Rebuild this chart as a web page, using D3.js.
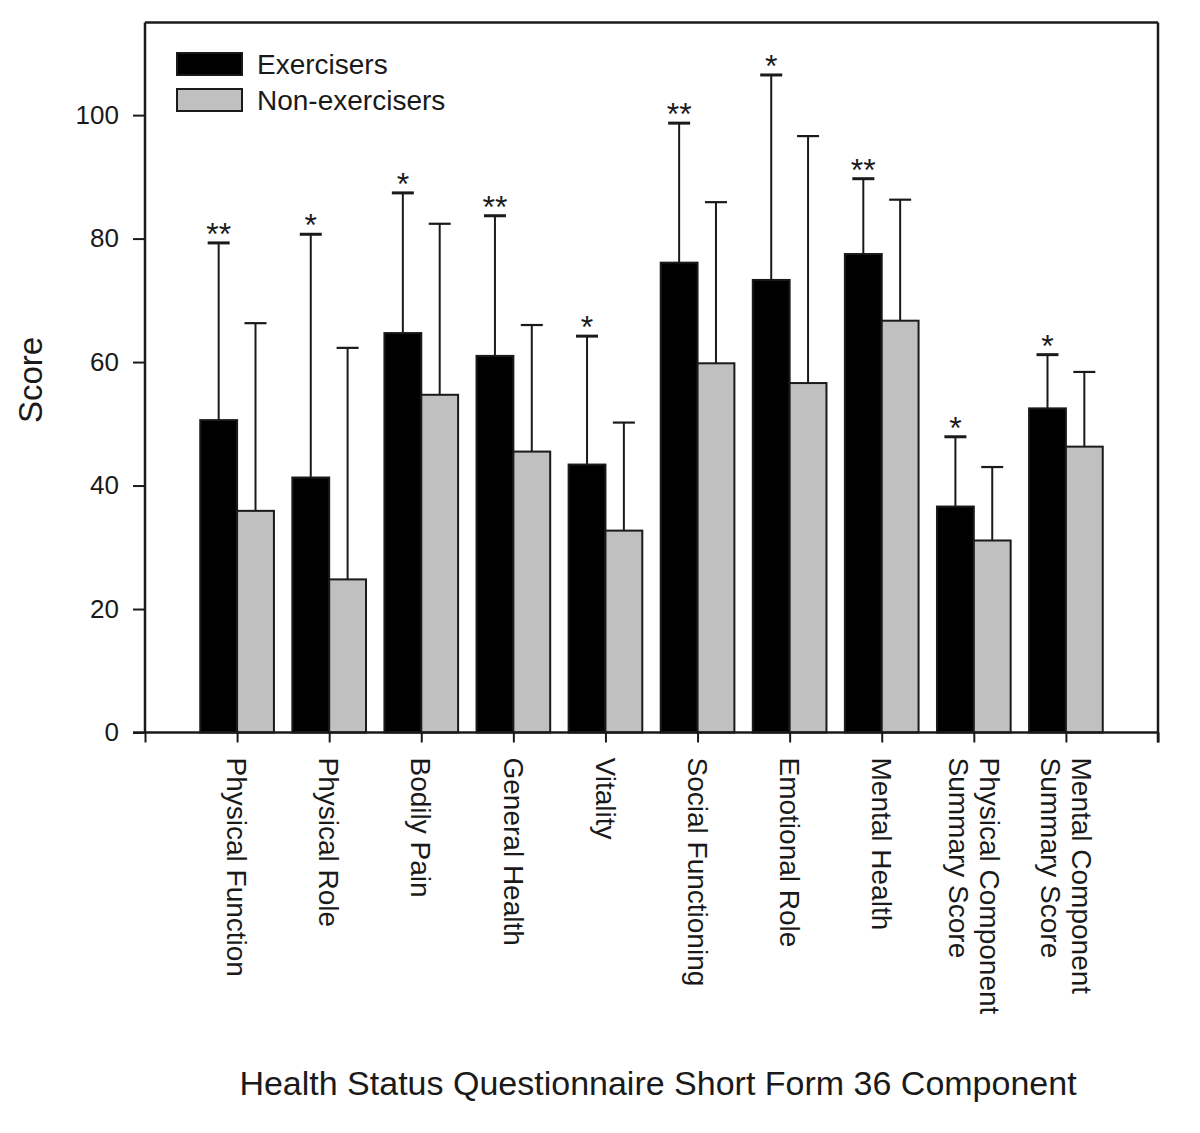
<!DOCTYPE html>
<html>
<head>
<meta charset="utf-8">
<script src="https://cdn.jsdelivr.net/npm/d3@7"></script>
<style>
  html, body { margin: 0; padding: 0; background: #fff; }
  svg { display: block; font-family: "Liberation Sans", Arial, Helvetica, sans-serif; }
</style>
</head>
<body>
<svg id="chart" width="1200" height="1133"></svg>
<script>
// ---- Data ----
const categories = [
  ["Physical Function"],
  ["Physical Role"],
  ["Bodily Pain"],
  ["General Health"],
  ["Vitality"],
  ["Social Functioning"],
  ["Emotional Role"],
  ["Mental Health"],
  ["Physical Component", "Summary Score"],
  ["Mental Component", "Summary Score"]
];
const exercisersMean = [50.6, 41.3, 64.7, 61.0, 43.4, 76.1, 73.3, 77.5, 36.6, 52.5];
const exercisersUpper = [79.3, 80.7, 87.4, 83.7, 64.2, 98.7, 106.5, 89.7, 47.9, 61.2];
const nonExercisersMean = [35.9, 24.8, 54.7, 45.5, 32.7, 59.8, 56.6, 66.7, 31.1, 46.3];
const nonExercisersUpper = [66.3, 62.3, 82.4, 66.0, 50.2, 85.9, 96.6, 86.3, 43.0, 58.4];
const significance = ["**", "*", "*", "**", "*", "**", "*", "**", "*", "*"];
const yTicks = [0, 20, 40, 60, 80, 100];
const seriesNames = ["Exercisers", "Non-exercisers"];
const seriesColors = ["#000000", "#c0c0c0"];

(function () {
// ---- Layout ----
const svg = d3.select("#chart");
const pLeft = 145, pRight = 1158, pTop = 22.5, pBottom = 732.5;
const x = d3.scaleLinear().domain([0, categories.length + 1]).range([pLeft, pRight]);
const y = d3.scaleLinear().domain([0, 115]).range([pBottom, pTop]);
const barW = x(0.4) - x(0);
const ink = "#1a1a1a";

const series = [
  { mean: exercisersMean, upper: exercisersUpper, color: seriesColors[0], off: -1, cap: 3 },
  { mean: nonExercisersMean, upper: nonExercisersUpper, color: seriesColors[1], off: 0, cap: 2.2 }
];

series.forEach((s) => {
  const g = svg.append("g");
  g.selectAll("line.err").data(s.mean).enter().append("line")
    .attr("class", "err")
    .attr("x1", (d, i) => x(i + 1) + (s.off + 0.5) * barW)
    .attr("x2", (d, i) => x(i + 1) + (s.off + 0.5) * barW)
    .attr("y1", d => y(d))
    .attr("y2", (d, i) => y(s.upper[i]))
    .attr("stroke", ink).attr("stroke-width", 2);
  g.selectAll("line.cap").data(s.upper).enter().append("line")
    .attr("class", "cap")
    .attr("x1", (d, i) => x(i + 1) + (s.off + 0.5) * barW - 11)
    .attr("x2", (d, i) => x(i + 1) + (s.off + 0.5) * barW + 11)
    .attr("y1", d => y(d)).attr("y2", d => y(d))
    .attr("stroke", ink).attr("stroke-width", s.cap);
  g.selectAll("rect").data(s.mean).enter().append("rect")
    .attr("x", (d, i) => x(i + 1) + s.off * barW)
    .attr("y", d => y(d))
    .attr("width", barW)
    .attr("height", d => y(0) - y(d))
    .attr("fill", s.color)
    .attr("stroke", ink).attr("stroke-width", 2);
});

// significance stars
svg.append("g").selectAll("text").data(significance).enter().append("text")
  .attr("x", (d, i) => x(i + 1) - 0.5 * barW)
  .attr("y", (d, i) => y(exercisersUpper[i]) + 2)
  .attr("text-anchor", "middle")
  .attr("font-size", 32)
  .attr("fill", ink)
  .text(d => d);

// Frame (top and right)
svg.append("line").attr("x1", pLeft).attr("x2", pRight).attr("y1", pTop).attr("y2", pTop)
  .attr("stroke", ink).attr("stroke-width", 2.5);
svg.append("line").attr("x1", pRight).attr("x2", pRight).attr("y1", pTop).attr("y2", pBottom + 10)
  .attr("stroke", ink).attr("stroke-width", 2.5);

// Y axis
const yAxis = svg.append("g").attr("transform", `translate(${pLeft},0)`)
  .call(d3.axisLeft(y).tickValues(yTicks).tickSize(12).tickPadding(14).tickFormat(d3.format("d")));
yAxis.select(".domain").attr("d", `M0,${pTop}V${pBottom}`).attr("stroke", ink).attr("stroke-width", 2.5);
yAxis.selectAll(".tick line").attr("stroke", ink).attr("stroke-width", 2);
yAxis.selectAll(".tick text").attr("font-size", 26).attr("fill", ink)
  .attr("font-family", "'Liberation Sans', Arial, sans-serif");

// X axis
const xTickVals = d3.range(0, categories.length + 2);
const xAxis = svg.append("g").attr("transform", `translate(0,${pBottom})`)
  .call(d3.axisBottom(x).tickValues(xTickVals).tickSize(10).tickFormat(""));
xAxis.select(".domain").attr("d", `M${pLeft - 12},0H${pRight}`).attr("stroke", ink).attr("stroke-width", 2.5);
xAxis.selectAll(".tick line").attr("stroke", ink).attr("stroke-width", 2);

// Category labels (rotated, reading top to bottom)
const lineGap = 31;
const catG = svg.append("g");
categories.forEach((lines, i) => {
  const t = catG.append("text")
    .attr("transform", `translate(${x(i + 1)},${pBottom + 25}) rotate(90)`)
    .attr("font-size", 28).attr("fill", ink)
    .attr("text-anchor", "start");
  const n = lines.length;
  lines.forEach((ln, k) => {
    const off = (k - (n - 1) / 2) * lineGap;
    t.append("tspan").attr("x", 0).attr("y", off).attr("dy", "0.35em").text(ln);
  });
});

// Axis titles
svg.append("text")
  .attr("transform", `translate(30,380) rotate(-90)`)
  .attr("text-anchor", "middle").attr("dy", "0.35em")
  .attr("font-size", 33).attr("fill", ink)
  .text("Score");
svg.append("text")
  .attr("x", 658).attr("y", 1095)
  .attr("text-anchor", "middle")
  .attr("font-size", 34).attr("fill", ink)
  .text("Health Status Questionnaire Short Form 36 Component");

// Legend
const legend = svg.append("g");
seriesNames.forEach((name, i) => {
  legend.append("rect")
    .attr("x", 177).attr("y", 53 + i * 36)
    .attr("width", 65).attr("height", 22)
    .attr("fill", seriesColors[i]).attr("stroke", ink).attr("stroke-width", 2);
  legend.append("text")
    .attr("x", 257).attr("y", 64 + i * 36).attr("dy", "0.35em")
    .attr("font-size", 28).attr("fill", ink)
    .text(name);
});
})();
</script>
</body>
</html>
